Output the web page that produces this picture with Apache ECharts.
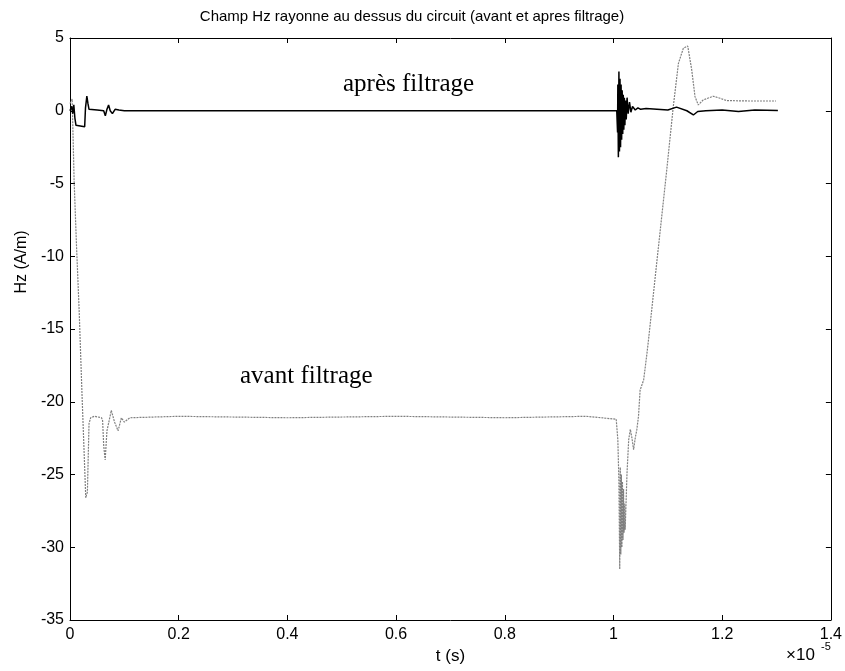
<!DOCTYPE html>
<html>
<head>
<meta charset="utf-8">
<script src="https://cdn.jsdelivr.net/npm/echarts@6/dist/echarts.min.js"></script>
<style>
html,body{margin:0;padding:0;background:#fff;}
#c{width:845px;height:671px;}
</style>
</head>
<body>
<div id="c"></div>
<script>
// time in units of 1e-5 s
var avantT = [0, 0.004, 0.0075, 0.012, 0.017, 0.022, 0.026, 0.029, 0.032, 0.035, 0.038, 0.045, 0.058, 0.060, 0.062, 0.0647, 0.068, 0.076, 0.082, 0.0885, 0.0945, 0.1, 0.11, 0.2, 0.4, 0.6, 0.8, 0.95, 1.005,
  1.008, 1.010, 1.0115, 1.0125, 1.0135, 1.0145, 1.0155, 1.0165, 1.0175, 1.0185, 1.0195, 1.0205, 1.0215, 1.0249, 1.028, 1.031, 1.034, 1.037, 1.040, 1.043, 1.046, 1.049, 1.0555, 1.0615, 1.0646, 1.08, 1.098, 1.110, 1.1195, 1.1286, 1.1366, 1.144, 1.15, 1.156, 1.165, 1.1835, 1.196, 1.208, 1.25, 1.299];
var avantH = [0.5, 0.8, -4.7, -9.3, -13.9, -19.4, -23.5, -26.6, -26.2, -21.5, -21.1, -21.0, -21.1, -21.3, -23.0, -24.0, -22.0, -20.6, -21.4, -22.0, -21.1, -21.4, -21.1, -21.0, -21.1, -21.0, -21.1, -21.0, -21.2,
  -22.6, -25.5, -31.5, -24.5, -30.5, -25.0, -30.0, -25.5, -29.5, -26.0, -29.0, -27.0, -28.8, -24.9, -22.6, -21.9, -22.5, -23.3, -22.5, -21.9, -21.0, -19.2, -18.5, -16.7, -15.7, -10.3, -4.07, 0.28, 3.26, 4.3, 4.45, 2.8, 0.97, 0.4, 0.74, 1.0, 0.86, 0.7, 0.67, 0.67];

var apresT = [0, 0.003, 0.005, 0.007, 0.009, 0.011, 0.013, 0.027, 0.0285, 0.031, 0.033, 0.035, 0.037, 0.05, 0.062, 0.065, 0.068, 0.071, 0.074, 0.078, 0.083, 0.09, 0.1, 0.5, 1.006,
  1.0075, 1.008, 1.009, 1.010, 1.011, 1.012, 1.013, 1.014, 1.015, 1.016, 1.017, 1.018, 1.019, 1.020, 1.021, 1.022, 1.0235, 1.025, 1.027, 1.0295, 1.032, 1.035, 1.04, 1.045, 1.05, 1.06, 1.08, 1.10, 1.116, 1.135, 1.147, 1.155, 1.17, 1.2, 1.23, 1.26, 1.3025];
var apresH = [0, 0.3, -0.2, 0.4, -0.5, -1.0, -1.1, -1.1, 0.2, 1.0, 0.5, 0.1, 0.0, 0.05, 0.0, -0.35, 0.1, 0.4, 0.0, -0.2, 0.1, 0.05, 0.0, 0.0, 0.0,
  -1.5, 1.8, -3.2, 2.7, -2.8, 2.2, -2.5, 1.8, -2.0, 1.4, -1.6, 1.1, -1.3, 0.9, -1.0, 0.7, -0.6, 0.9, -0.2, 0.6, -0.1, 0.3, 0.05, 0.2, 0.1, 0.15, 0.1, 0.05, 0.25, 0.0, -0.29, -0.05, 0.0, 0.05, -0.05, 0.05, 0.02];

var xTicks = [0, 0.2, 0.4, 0.6, 0.8, 1, 1.2, 1.4];
var yTicks = [-35, -30, -25, -20, -15, -10, -5, 0, 5];

function pairs(t, h) { return t.map(function (v, i) { return [v, h[i]]; }); }

var FONT = "'Liberation Sans Narrow', 'Liberation Sans', Arial, sans-serif";
var SERIF = '"Liberation Serif", "Times New Roman", serif';
var chart = echarts.init(document.getElementById('c'), null, {renderer: 'canvas'});
var axisCommon = {
  type: 'value',
  axisLine: {show: true, onZero: false, lineStyle: {color: '#000', width: 1}},
  axisTick: {show: true, inside: true, length: 5, lineStyle: {color: '#000'}},
  splitLine: {show: false}
};
chart.setOption({
  animation: false,
  backgroundColor: '#fff',
  grid: {left: 70, top: 38, width: 765, height: 582},
  xAxis: [
    Object.assign({}, axisCommon, {
      min: xTicks[0], max: xTicks[xTicks.length - 1], interval: 0.2, position: 'bottom',
      name: 't (s)', nameLocation: 'middle', nameGap: 20,
      nameTextStyle: {fontFamily: FONT, fontSize: 17, color: '#000'},
      axisLabel: {fontFamily: FONT, fontSize: 16, color: '#000', margin: 7,
        formatter: function (v) { return String(+v.toFixed(1)); }}
    }),
    Object.assign({}, axisCommon, {
      min: xTicks[0], max: xTicks[xTicks.length - 1], interval: 0.2, position: 'top',
      axisLabel: {show: false}
    })
  ],
  yAxis: [
    Object.assign({}, axisCommon, {
      min: yTicks[0], max: yTicks[yTicks.length - 1], interval: 5, position: 'left',
      axisLabel: {fontFamily: FONT, fontSize: 16, color: '#000', margin: 6}
    }),
    Object.assign({}, axisCommon, {
      min: yTicks[0], max: yTicks[yTicks.length - 1], interval: 5, position: 'right',
      axisLabel: {show: false}
    })
  ],
  series: [
    {
      name: 'avant filtrage', type: 'line', xAxisIndex: 0, yAxisIndex: 0,
      data: pairs(avantT, avantH), showSymbol: false, smooth: false,
      lineStyle: {color: '#808080', width: 1.2, type: [2, 1]}
    },
    {
      name: 'après filtrage', type: 'line', xAxisIndex: 0, yAxisIndex: 0,
      data: pairs(apresT, apresH), showSymbol: false, smooth: false,
      lineStyle: {color: '#000', width: 1.5}
    }
  ],
  graphic: [
    {type: 'text', x: 412, y: 9, style: {text: 'Champ Hz rayonne au dessus du circuit (avant et apres filtrage)', font: '15px ' + FONT, fill: '#000', align: 'center', textAlign: 'center'}},
    {type: 'text', x: 22, y: 262, rotation: Math.PI / 2, style: {text: 'Hz (A/m)', font: '16px ' + FONT, fill: '#000', align: 'center', textAlign: 'center', verticalAlign: 'middle', textVerticalAlign: 'middle'}},
    {type: 'text', x: 343, y: 72, style: {text: 'après filtrage', font: '25px ' + SERIF, fill: '#000'}},
    {type: 'text', x: 240, y: 364, style: {text: 'avant filtrage', font: '25px ' + SERIF, fill: '#000'}},
    {type: 'text', x: 786, y: 647, style: {text: '×10', font: '17px ' + FONT, fill: '#000'}},
    {type: 'text', x: 821, y: 641, style: {text: '-5', font: '11px ' + FONT, fill: '#000'}}
  ]
});
</script>
</body>
</html>
